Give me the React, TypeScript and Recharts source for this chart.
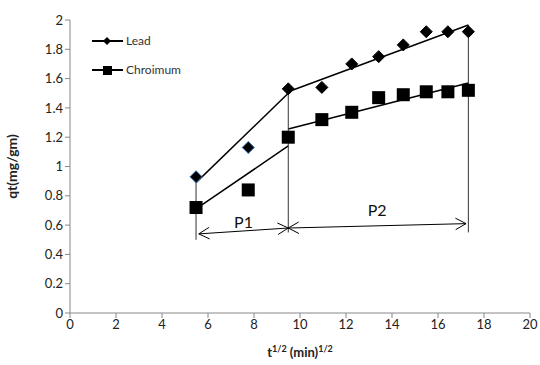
import { ComposedChart, Scatter, XAxis, YAxis, ReferenceLine, Label } from 'recharts';

// sqrt(t) values, t = 30..300 min
const sqrtTime = [5.48, 7.75, 9.49, 10.95, 12.25, 13.42, 14.49, 15.49, 16.43, 17.32];
const leadQt = [0.93, 1.13, 1.53, 1.54, 1.70, 1.75, 1.83, 1.92, 1.92, 1.92];
const chromiumQt = [0.72, 0.84, 1.20, 1.32, 1.37, 1.47, 1.49, 1.51, 1.51, 1.52];

const xTicks = [0, 2, 4, 6, 8, 10, 12, 14, 16, 18, 20];
const yTicks = [0, 0.2, 0.4, 0.6, 0.8, 1, 1.2, 1.4, 1.6, 1.8, 2];

// intra-particle diffusion fit segments [x1, y1, x2, y2]
const fitLines = [
  [5.48, 0.89, 9.49, 1.5],
  [9.49, 1.51, 17.32, 1.966],
  [5.48, 0.71, 9.49, 1.14],
  [9.49, 1.256, 17.32, 1.57],
];
// stage boundaries [x, yFrom, yTo]
const boundaries = [
  [5.48, 0.5, 0.93],
  [9.49, 0.55, 1.53],
  [17.32, 0.55, 1.966],
];
// stage arrows [x1, y1, x2, y2, label, labelY]
const stages: [number, number, number, number, string, number][] = [
  [5.6, 0.54, 9.49, 0.58, 'P1', 0.62],
  [9.49, 0.58, 17.22, 0.61, 'P2', 0.7],
];

const font = 'Lato, "Open Sans", sans-serif';

const points = (ys: number[]) => sqrtTime.map((x, i) => ({ x, y: ys[i] }));

const Diamond = (p: any) => {
  const { cx, cy, index } = p;
  const r = 6;
  const edge = index < 2 ? '#2f6fb0' : '#000';
  return <polygon points={`${cx},${cy - r} ${cx + r},${cy} ${cx},${cy + r} ${cx - r},${cy}`} fill="#000" stroke={edge} strokeWidth={1} />;
};

const Square = (p: any) => {
  const { cx, cy } = p;
  const s = 6.5;
  return <rect x={cx - s} y={cy - s} width={s * 2} height={s * 2} fill="#000" />;
};

const Arrow = (p: any) => {
  const { x1, y1, x2, y2 } = p;
  const a = Math.atan2(y2 - y1, x2 - x1);
  const len = 12, w = 0.5;
  const head = (x: number, y: number, dir: number) => {
    const b = a + dir;
    return `M${x + len * Math.cos(b - w)},${y + len * Math.sin(b - w)} L${x},${y} L${x + len * Math.cos(b + w)},${y + len * Math.sin(b + w)}`;
  };
  return (
    <g>
      <line x1={x1} y1={y1} x2={x2} y2={y2} stroke="#000" strokeWidth={1} />
      <path d={head(x1, y1, 0)} fill="none" stroke="#000" strokeWidth={1} />
      <path d={head(x2, y2, Math.PI)} fill="none" stroke="#000" strokeWidth={1} />
    </g>
  );
};

const LegendBox = () => (
  <svg width={140} height={50} style={{ position: 'absolute', left: 92, top: 33, overflow: 'visible' }}>
    <g fontFamily={font} fontSize={12} fill="#333">
      <line x1={0} y1={8} x2={31} y2={8} stroke="#000" strokeWidth={2} />
      <polygon points="15,4 19,8 15,12 11,8" fill="#000" />
      <text x={34} y={12}>Lead</text>
      <line x1={0} y1={37} x2={31} y2={37} stroke="#000" strokeWidth={2} />
      <rect x={11} y={33} width={9} height={9} fill="#000" />
      <text x={34} y={41}>Chroimum</text>
    </g>
  </svg>
);

const XTitle = (p: any) => {
  const { viewBox } = p;
  const cx = viewBox.x + viewBox.width / 2;
  return (
    <text x={cx} y={357} textAnchor="middle" fontFamily={font} fontSize={13} fontWeight="bold" fill="#222">
      t<tspan fontSize={9} dy={-5}>1/2</tspan>
      <tspan dy={5}> (min)</tspan>
      <tspan fontSize={9} dy={-5}>1/2</tspan>
    </text>
  );
};

export default function App() {
  const tick = { fontFamily: font, fontSize: 13, fill: '#222' };
  return (
    <div style={{ position: 'absolute', left: 0, top: 0, width: 540, height: 365, background: '#fff' }}>
      <ComposedChart width={540} height={365} margin={{ top: 20, right: 10, left: 0, bottom: 0 }}>
        <XAxis type="number" dataKey="x" domain={[0, 20]} ticks={xTicks} height={52} interval={0}
          axisLine={{ stroke: '#888' }} tickLine={{ stroke: '#888' }} tickSize={5} tick={tick} allowDataOverflow>
          <Label content={XTitle} />
        </XAxis>
        <YAxis type="number" dataKey="y" domain={[0, 2]} ticks={yTicks} width={70} interval={0}
          axisLine={{ stroke: '#888' }} tickLine={{ stroke: '#888' }} tickSize={5} tick={tick}>
          <Label value="qt(mg/gm)" angle={-90} position="insideLeft" offset={12}
            style={{ fontFamily: font, fontSize: 14, fontWeight: 'bold', fill: '#222', textAnchor: 'middle' }} />
        </YAxis>
        {fitLines.map(([x1, y1, x2, y2], i) => (
          <ReferenceLine key={`f${i}`} segment={[{ x: x1, y: y1 }, { x: x2, y: y2 }]} stroke="#000" strokeWidth={1.5} />
        ))}
        {boundaries.map(([x, y1, y2], i) => (
          <ReferenceLine key={`b${i}`} segment={[{ x, y: y1 }, { x, y: y2 }]} stroke="#333" strokeWidth={1} />
        ))}
        {stages.map(([x1, y1, x2, y2], i) => (
          <ReferenceLine key={`s${i}`} segment={[{ x: x1, y: y1 }, { x: x2, y: y2 }]} shape={Arrow} />
        ))}
        {stages.map(([x1, , x2, , label, ly], i) => (
          <ReferenceLine key={`l${i}`} segment={[{ x: (x1 + x2) / 2 - 0.4, y: ly }, { x: (x1 + x2) / 2 + 0.4, y: ly }]} stroke="none">
            <Label value={label} position="center" style={{ fontFamily: font, fontSize: 16, fill: '#111' }} />
          </ReferenceLine>
        ))}
        <Scatter name="Lead" data={points(leadQt)} shape={Diamond} isAnimationActive={false} />
        <Scatter name="Chroimum" data={points(chromiumQt)} shape={Square} isAnimationActive={false} />
      </ComposedChart>
      <LegendBox />
    </div>
  );
}
